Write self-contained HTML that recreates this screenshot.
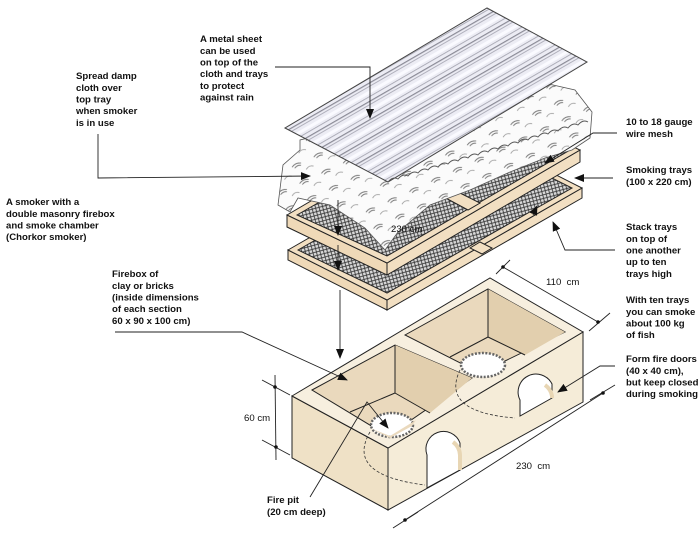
<!DOCTYPE html>
<html><head><meta charset="utf-8"><style>
html,body{margin:0;padding:0;background:#fff;}
svg{display:block;}
text{font-family:"Liberation Sans",Arial,sans-serif;font-size:9.6px;font-weight:bold;fill:#111;}
</style></head><body>
<svg width="700" height="538" viewBox="0 0 700 538" xmlns="http://www.w3.org/2000/svg">
<defs>
<pattern id="mesh" width="5" height="5" patternUnits="userSpaceOnUse" patternTransform="rotate(30)">
<rect width="5" height="5" fill="#d8d8d8"/>
<path d="M0,0 L5,5 M5,0 L0,5" stroke="#333" stroke-width="0.8"/>
</pattern>
<pattern id="ridge" width="16" height="16" patternUnits="userSpaceOnUse" patternTransform="rotate(-30)">
<rect width="16" height="16" fill="#ececf4"/>
<rect y="0" width="16" height="1.2" fill="#8a8a96"/>
<rect y="3" width="16" height="1" fill="#b0b0bc"/>
<rect y="7" width="16" height="3" fill="#fafaff"/>
<rect y="12" width="16" height="0.8" fill="#a0a0ac"/>
</pattern>
<pattern id="cloth" width="24" height="18" patternUnits="userSpaceOnUse" patternTransform="rotate(-25)">
<rect width="24" height="18" fill="#fbfbfb"/>
<path d="M2,5 q5,-3 10,0 M4,7 q4,-2 7,0" stroke="#777" stroke-width="0.9" fill="none"/>
<path d="M14,13 q4,-3 8,0" stroke="#999" stroke-width="0.8" fill="none"/>
</pattern>
<marker id="ar" markerWidth="10" markerHeight="8" refX="9" refY="4" orient="auto" markerUnits="userSpaceOnUse">
<path d="M0,0 L10,4 L0,8 Z" fill="#111"/>
</marker>
</defs>

<!-- Firebox -->
<g stroke="#222" stroke-width="1">
<polygon points="292,396 388,448 388,510 292,458" fill="#efe1c6"/>
<polygon points="388,448 583,332 583,402 388,510" fill="#f5ecd8"/>
<polygon points="292,396 490,278 583,332 388,448" fill="#f7efdf"/>
<!-- left cavity -->
<polygon points="312,390 395,345 472,378 388,436" fill="#ead9bd"/>
<polygon points="395,345 472,378 430,413 395,393" fill="#e2cfae" stroke="none"/>
<polyline points="395,345 395,393 430,413" fill="none"/>
<polyline points="395,393 350,412" fill="none"/>
<!-- right cavity -->
<polygon points="405,335 488,289 565,332 480,373" fill="#ead9bd"/>
<polygon points="488,289 565,332 525,355 488,337" fill="#e2cfae" stroke="none"/>
<polyline points="488,289 488,337 525,355" fill="none"/>
<polyline points="488,337 450,357" fill="none"/>
<!-- fire pits -->
<ellipse cx="392" cy="425" rx="21" ry="12" fill="#fff" stroke="#666" stroke-width="2.5" stroke-dasharray="2 1.5"/>
<ellipse cx="483" cy="365" rx="22" ry="12" fill="#fff" stroke="#666" stroke-width="2.5" stroke-dasharray="2 1.5"/>
<polygon points="370,428 390,438 412,426 416,420 390,436" fill="#ead9bd" stroke="none"/>
<!-- doors -->
<path d="M427,488 L427,455 A17,17 0 0 1 460,443 L460,470 Z" fill="#fff"/>
<path d="M520,416 L520,400 A17,17 0 0 1 552,384 L552,398 Z" fill="#fff"/>
<path d="M453,442 A17,17 0 0 1 460,455 L460,470" fill="none" stroke-width="4" stroke="#e8d6b4"/>
<path d="M545,385 A17,17 0 0 1 552,396 L552,398" fill="none" stroke-width="4" stroke="#e8d6b4"/>
</g>
<g fill="none" stroke="#333" stroke-width="0.8" stroke-dasharray="3 2">
<path d="M370,432 Q345,475 425,485"/>
<path d="M460,370 Q440,412 515,418"/>
</g>

<!-- Lower tray -->
<g stroke="#222" stroke-width="1">
<polygon points="288,250 387,300 387,310 288,260" fill="#efd9b8"/>
<polygon points="387,300 582,188 582,198 387,310" fill="#f2dfc2"/>
<polygon points="288,250 483,138 582,188 387,300" fill="#f2dfc2"/>
<polygon points="298,250 484,144 572,188 387,293" fill="url(#mesh)"/>
<polygon points="470,248 480,242 492,248 482,254" fill="#f2dfc2"/>
</g>
<!-- Upper tray -->
<g stroke="#222" stroke-width="1">
<polygon points="287,215 387,263 387,275 287,227" fill="#efd9b8"/>
<polygon points="387,263 580,150 580,162 387,275" fill="#f2dfc2"/>
<polygon points="287,215 480,102 580,150 387,263" fill="#f2dfc2"/>
<polygon points="297,215 481,109 570,150 387,256" fill="url(#mesh)"/>
<polygon points="440,195 452,189 480,203 468,210" fill="#f2dfc2"/>
</g>
<!-- Cloth -->
<polygon points="300,150 283,165 278,205 290,212 298,198 330,205 365,228 385,250 398,232 430,205 470,190 510,172 545,158 572,150 590,138 592,112 575,90 540,82 300,140" fill="url(#cloth)" stroke="#555" stroke-width="0.8"/>
<!-- Metal sheet -->
<polygon points="285,128 388,182 587,62 487,8" fill="url(#ridge)" stroke="#444" stroke-width="1"/>
<path d="M388,182 q5,-6 10,-3 q5,-6 10,-3 q5,-6 10,-3 q5,-6 10,-3 q5,-6 10,-3 q5,-6 10,-3 q5,-6 10,-3 q5,-6 10,-3 q5,-6 10,-3 q5,-6 10,-3 q5,-6 10,-3 q5,-6 10,-3 q5,-6 10,-3 q5,-6 10,-3 q5,-6 10,-3 q5,-6 10,-3 q5,-6 10,-3 q5,-6 10,-3 q5,-6 10,-3 q5,-6 10,-3" fill="none" stroke="#555" stroke-width="0.9"/>

<!-- Leaders -->
<g fill="none" stroke="#222" stroke-width="0.9">
<polyline points="275,67 370,67 370,118" marker-end="url(#ar)"/>
<polyline points="98,134 98,178 310,176" marker-end="url(#ar)"/>
<polyline points="115,332 242,332 347,380" marker-end="url(#ar)"/>
<polyline points="617,133 593,133 545,163" marker-end="url(#ar)"/>
<polyline points="613,178 575,178" marker-end="url(#ar)"/>
<polyline points="615,250 565,250 553,222" marker-end="url(#ar)"/>
<polyline points="615,366 600,366 558,392" marker-end="url(#ar)"/>
<polyline points="310,497 367,402 388,428" marker-end="url(#ar)"/>
<polyline points="340,290 340,358" marker-end="url(#ar)"/>
<polyline points="338,200 338,235" marker-end="url(#ar)"/>
<polyline points="338,245 338,270" marker-end="url(#ar)"/>
<polyline points="533,215 537,206" marker-end="url(#ar)"/>
<!-- dimension lines -->
<line x1="503" y1="267" x2="598" y2="322"/>
<line x1="496" y1="274" x2="510" y2="260"/>
<line x1="589" y1="331" x2="610" y2="313"/>
<line x1="405" y1="520" x2="603" y2="393"/>
<line x1="393" y1="528" x2="418" y2="512"/>
<line x1="590" y1="400" x2="615" y2="385"/>
<line x1="275" y1="375" x2="276" y2="460"/>
<line x1="262" y1="380" x2="290" y2="395"/>
<line x1="262" y1="440" x2="290" y2="455"/>
</g>
<g fill="#111">
<circle cx="503" cy="267" r="1.8"/><circle cx="598" cy="322" r="1.8"/>
<circle cx="405" cy="520" r="1.8"/><circle cx="603" cy="393" r="1.8"/>
<circle cx="275" cy="387" r="1.8"/><circle cx="276" cy="447" r="1.8"/>
</g>

<!-- Text -->
<text x="200" y="42">A metal sheet</text>
<text x="200" y="54">can be used</text>
<text x="200" y="65.5">on top of the</text>
<text x="200" y="77">cloth and trays</text>
<text x="200" y="89">to protect</text>
<text x="200" y="100.5">against rain</text>

<text x="76" y="79">Spread damp</text>
<text x="76" y="91">cloth over</text>
<text x="76" y="102.5">top tray</text>
<text x="76" y="114">when smoker</text>
<text x="76" y="126">is in use</text>

<text x="6" y="205">A smoker with a</text>
<text x="6" y="217">double masonry firebox</text>
<text x="6" y="228.5">and smoke chamber</text>
<text x="6" y="240">(Chorkor smoker)</text>

<text x="112" y="277">Firebox of</text>
<text x="112" y="289">clay or bricks</text>
<text x="112" y="300.5">(inside dimensions</text>
<text x="112" y="312">of each section</text>
<text x="112" y="324">60 x 90 x 100 cm)</text>

<text x="626" y="125">10 to 18 gauge</text>
<text x="626" y="137">wire mesh</text>
<text x="626" y="173">Smoking trays</text>
<text x="626" y="185">(100 x 220 cm)</text>
<text x="626" y="230">Stack trays</text>
<text x="626" y="242">on top of</text>
<text x="626" y="253.5">one another</text>
<text x="626" y="265">up to ten</text>
<text x="626" y="277">trays high</text>
<text x="626" y="303">With ten trays</text>
<text x="626" y="315">you can smoke</text>
<text x="626" y="326.5">about 100 kg</text>
<text x="626" y="338">of fish</text>
<text x="626" y="362">Form fire doors</text>
<text x="626" y="374">(40 x 40 cm),</text>
<text x="626" y="385.5">but keep closed</text>
<text x="626" y="397">during smoking</text>

<text x="546" y="285" style="font-weight:normal">110 &#160;cm</text>
<text x="516" y="469" style="font-weight:normal">230 &#160;cm</text>
<text x="244" y="421" style="font-weight:normal">60 cm</text>
<text x="391" y="232" style="font-weight:normal">230 cm</text>
<text x="267" y="503">Fire pit</text>
<text x="267" y="515">(20 cm deep)</text>
</svg>
</body></html>
